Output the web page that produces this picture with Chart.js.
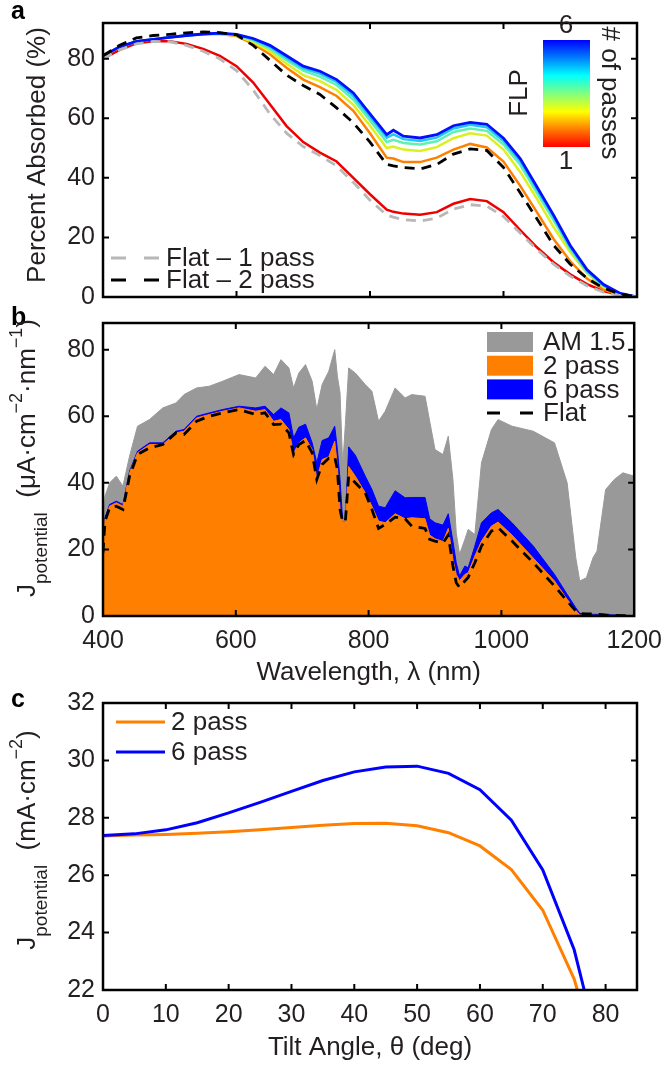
<!DOCTYPE html>
<html>
<head>
<meta charset="utf-8">
<script src="https://cdn.jsdelivr.net/npm/chart.js@4.4.1/dist/chart.umd.min.js"></script>
<style>
  body { margin: 0; background: #fff; }
  .panel { position: absolute; left: 0; }
</style>
</head>
<body>
<canvas id="chartA" class="panel" width="672" height="320" style="top:0px"></canvas>
<canvas id="chartB" class="panel" width="672" height="400" style="top:300px"></canvas>
<canvas id="chartC" class="panel" width="672" height="388" style="top:680px"></canvas>
<script>
// ---- Panel a: percent absorbed vs wavelength ----
const waveA = [400, 425, 450, 475, 500, 525, 550, 575, 600, 625, 650, 675, 700, 725, 750, 775, 800, 825, 835, 850, 875, 900, 925, 950, 975, 1000, 1025, 1050, 1075, 1100, 1125, 1150, 1175, 1200];
const flp1 = [80, 83, 85.2, 85.9, 85.9, 85, 83.3, 81, 77.5, 72, 64.7, 57.4, 52, 48.5, 45.5, 40, 34.5, 29.3, 28.6, 28, 27.6, 28.5, 31.3, 32.9, 32.2, 28.5, 22.5, 16.7, 11.7, 7.6, 4.3, 2, 0.6, 0];
const flp2 = [80.8, 84, 85.8, 86.5, 87.2, 87.8, 88.3, 88.3, 87.6, 85, 81.5, 77, 73, 70.5, 67.5, 62.5, 55, 46.8, 46.5, 45.3, 45.3, 46.8, 49.5, 51.4, 50.2, 45.5, 37.3, 28.5, 19.5, 12, 6.2, 2.5, 0.6, 0];
const flp3 = [81, 84, 85.8, 86.5, 87.2, 87.8, 88.3, 88.4, 87.8, 85.6, 82.5, 78.3, 74.5, 72.5, 69.5, 64.5, 57.5, 50, 50.5, 49.5, 49, 50.3, 53.3, 55, 54.2, 49.5, 42, 33, 23.5, 15, 8, 3.3, 0.9, 0];
const flp4 = [81, 84, 85.8, 86.5, 87.2, 87.8, 88.3, 88.5, 88, 86.2, 83.4, 79.5, 76, 74, 71.2, 66.3, 59.3, 52, 52.8, 51.7, 51.2, 52.3, 55.4, 56.6, 55.8, 51.2, 44.4, 35, 25.8, 16, 8.4, 3.7, 1, 0];
const flp5 = [81, 84, 85.8, 86.5, 87.2, 87.8, 88.3, 88.5, 88.1, 86.5, 84, 80.3, 76.8, 75, 72.2, 67.5, 60.5, 53.5, 54.6, 53, 52.4, 53.5, 56.6, 57.8, 57, 52.4, 45.6, 36.2, 26.8, 16.7, 8.8, 3.9, 1.1, 0];
const flp6 = [81, 84, 85.8, 86.5, 87.2, 87.8, 88.3, 88.6, 88.2, 86.8, 84.5, 81, 77.5, 75.8, 73, 68.5, 61.5, 54.5, 56, 54, 53.4, 54.5, 57.5, 58.6, 58, 53.3, 46.5, 37, 27.5, 17.3, 9.2, 4.2, 1.2, 0];
const flat1A = [80, 83, 85, 85.8, 85.7, 84.5, 82.5, 80, 76, 69.5, 61.5, 55, 50.5, 47.5, 44, 38.5, 32.5, 27.5, 26.8, 26, 25.5, 26.5, 29.5, 31, 30.5, 27, 21.5, 16, 11, 7, 3.8, 1.6, 0.5, 0];
const flat2A = [81, 84.5, 87, 87.8, 88.2, 88.7, 89, 88.8, 88, 84.5, 79.5, 74.5, 71, 68, 63.5, 58.5, 52, 44.5, 44, 43.5, 43, 44.5, 48, 49.7, 49.2, 43.5, 35, 26.3, 17.4, 11, 6.3, 3, 1, 0];
const ticksAX = [400, 600, 800, 1000, 1200];
const ticksAY = [0, 20, 40, 60, 80];

// ---- Panel b: potential current density spectrum ----
const waveB = [400, 403, 410, 420, 430, 440, 452, 470, 490, 510, 522, 541, 560, 580, 605, 630, 644, 657, 668, 680, 687, 695, 705, 715, 722, 730, 740, 749, 753, 757, 761, 765, 770, 780, 795, 805, 815, 825, 840, 855, 865, 885, 892, 900, 912, 920, 927, 932, 937, 945, 950, 960, 970, 985, 995, 1016, 1048, 1080, 1099, 1112, 1118, 1128, 1138, 1144, 1157, 1170, 1183, 1200];
const am15 = [25, 36, 40, 42, 39, 48, 57, 59, 62.5, 64, 66.5, 68.5, 69, 70.5, 72.5, 71.5, 75, 72.5, 77, 74.5, 68.5, 73, 75.5, 70.5, 62, 69.5, 73.5, 80, 72, 67, 45, 57.5, 74.5, 73, 69.5, 67.5, 58.5, 61.5, 68.5, 65.5, 66.5, 66, 58.5, 50, 48.5, 54, 41, 25, 18.5, 23, 26, 24.5, 46, 56, 59, 57, 55.5, 52, 40, 17.5, 10.5, 11.5, 17.5, 19.5, 38, 41, 43, 42];
const pass2B = [20, 29, 33, 34, 33, 43, 49, 51.5, 51.5, 55, 55.5, 59.5, 60.5, 61.5, 62.5, 61.5, 62, 58.5, 59, 56, 48.8, 52, 53.5, 50, 41, 47, 47.8, 52.5, 45, 32, 28.2, 28.2, 44.9, 42, 37, 33, 28.5, 28, 30.7, 29.2, 29.5, 29.2, 24.3, 23.2, 22.4, 26.3, 17, 12.5, 10.6, 12.5, 13, 18, 22.5, 27, 28.2, 24.3, 17.4, 10.5, 5, 1.7, 0.3, 0.2, 0.2, 0.2, 0.1, 0.1, 0.1, 0];
const pass6B = [20.5, 29.5, 33.5, 34.5, 33.5, 43.5, 49.5, 52, 52, 55.5, 56, 60, 61, 62, 63, 62.5, 63, 60.5, 62.5, 61, 53.5, 56.7, 57.6, 52, 46, 52.7, 53.5, 57, 50, 41, 28.2, 28.2, 50.8, 48.3, 42, 38, 33, 32.5, 37.6, 35.5, 35.6, 35.6, 29.2, 28, 27.3, 30.7, 22.4, 16, 12, 15, 14.5, 21, 28, 31, 32, 28, 21, 12.5, 6.5, 2.5, 0.8, 0.6, 0.5, 0.5, 0.4, 0.3, 0.2, 0.1];
const flatB = [19, 28.5, 32.5, 33, 32, 42, 48.5, 50.5, 51.5, 55, 54.5, 58.5, 60, 61, 62, 60.5, 61, 57.5, 57.6, 55, 48.5, 51.5, 52.7, 49, 41, 45.5, 47.4, 47.8, 44, 32, 28.2, 28.5, 42, 40, 37, 32, 26.3, 27.5, 29.7, 29.2, 27, 26.3, 23, 22.5, 21.9, 24.3, 15, 10, 8.6, 10.5, 11.6, 16, 21, 25.5, 26.5, 22.5, 16, 9, 4.5, 1.5, 0.8, 0.6, 0.6, 0.5, 0.3, 0.2, 0.1, 0];
const ticksBX = [400, 600, 800, 1000, 1200];
const ticksBY = [0, 20, 40, 60, 80];

// ---- Panel c: J vs tilt angle ----
const tilt2 = [0, 5, 10, 15, 20, 25, 30, 35, 40, 45, 50, 55, 60, 65, 70, 75, 75.5];
const pass2C = [27.37, 27.4, 27.42, 27.46, 27.51, 27.58, 27.66, 27.74, 27.8, 27.81, 27.72, 27.48, 27.02, 26.2, 24.78, 22.38, 22];
const tilt6 = [0, 5, 10, 15, 20, 25, 30, 35, 40, 45, 50, 55, 60, 65, 70, 75, 76.6];
const pass6C = [27.38, 27.44, 27.58, 27.83, 28.17, 28.54, 28.92, 29.3, 29.6, 29.77, 29.8, 29.55, 28.98, 27.92, 26.18, 23.4, 22];
const ticksCX = [0, 10, 20, 30, 40, 50, 60, 70, 80];
const ticksCY = [22, 24, 26, 28, 30, 32];

const FONT = '"Liberation Sans", Arial, Helvetica, sans-serif';
const TEXT = '#231f20';

Chart.defaults.font.family = FONT;
Chart.defaults.font.size = 25;
Chart.defaults.color = TEXT;
Chart.defaults.animation = false;
Chart.defaults.events = [];
Chart.defaults.plugins.legend.display = false;
Chart.defaults.plugins.tooltip.enabled = false;
Chart.defaults.elements.point.radius = 0;
Chart.defaults.elements.line.tension = 0;

function pts(xs, ys) {
    return xs.map((x, i) => ({ x: x, y: ys[i] }));
}

// linear axis with fixed tick list and fixed box size
function axis(min, max, tickValues, size, extra) {
    return Object.assign({
        type: 'linear',
        min: min,
        max: max,
        grid: { display: false, drawTicks: false },
        border: { display: false },
        afterBuildTicks: s => { s.ticks = tickValues.map(v => ({ value: v })); },
        afterFit: s => { if (s.isHorizontal()) s.height = size; else s.width = size; }
    }, extra);
}

// box round the plot with inward ticks on all four sides
const boxTicks = {
    id: 'boxTicks',
    afterDatasetsDraw(chart) {
        const { ctx, chartArea: a, scales } = chart;
        ctx.save();
        ctx.strokeStyle = '#000';
        ctx.lineWidth = 2;
        ctx.beginPath();
        scales.x.ticks.forEach(t => {
            const px = scales.x.getPixelForValue(t.value);
            if (px < a.left + 2 || px > a.right - 2) return;
            ctx.moveTo(px, a.bottom); ctx.lineTo(px, a.bottom - 6);
            ctx.moveTo(px, a.top); ctx.lineTo(px, a.top + 6);
        });
        scales.y.ticks.forEach(t => {
            const py = scales.y.getPixelForValue(t.value);
            if (py < a.top + 2 || py > a.bottom - 2) return;
            ctx.moveTo(a.left, py); ctx.lineTo(a.left + 6, py);
            ctx.moveTo(a.right, py); ctx.lineTo(a.right - 6, py);
        });
        ctx.stroke();
        ctx.lineWidth = 2.5;
        ctx.strokeRect(a.left, a.top, a.right - a.left, a.bottom - a.top);
        ctx.restore();
    }
};

// rotated text made of pieces: [text, size, baseline shift]
function vertRich(ctx, parts, bx, cy) {
    ctx.save();
    ctx.translate(bx, cy);
    ctx.rotate(-Math.PI / 2);
    ctx.fillStyle = TEXT;
    ctx.textAlign = 'left';
    ctx.textBaseline = 'alphabetic';
    let total = 0;
    parts.forEach(p => { ctx.font = p[1] + 'px ' + FONT; total += ctx.measureText(p[0]).width; });
    let x = -total / 2;
    parts.forEach(p => {
        ctx.font = p[1] + 'px ' + FONT;
        ctx.fillText(p[0], x, p[2]);
        x += ctx.measureText(p[0]).width;
    });
    ctx.restore();
}

function panelLetter(ctx, letter, y) {
    ctx.save();
    ctx.fillStyle = '#000';
    ctx.font = 'bold 25px ' + FONT;
    ctx.textAlign = 'left';
    ctx.textBaseline = 'middle';
    ctx.fillText(letter, 11, y);
    ctx.restore();
}

// ---- chart a ----
const legendA = [
    { label: 'Flat \u2013 1 pass', color: '#b8b8b8' },
    { label: 'Flat \u2013 2 pass', color: '#000000' }
];
const decoA = {
    id: 'decoA',
    afterDraw(chart) {
        const ctx = chart.ctx;
        panelLetter(ctx, 'a', 12);
        vertRich(ctx, [['Percent Absorbed (%)', 26, 0]], 45, 155);

        ctx.save();
        ctx.font = '26px ' + FONT;
        ctx.textAlign = 'left';
        ctx.textBaseline = 'middle';
        legendA.forEach((item, i) => {
            const y = 258 + i * 22;
            ctx.strokeStyle = item.color;
            ctx.lineWidth = 3;
            ctx.setLineDash([15, 18]);
            ctx.beginPath(); ctx.moveTo(111, y); ctx.lineTo(161, y); ctx.stroke();
            ctx.setLineDash([]);
            ctx.fillStyle = TEXT;
            ctx.fillText(item.label, 166, y + 1);
        });

        // colour bar for number of passes
        const g = ctx.createLinearGradient(0, 147, 0, 40);
        g.addColorStop(0, '#ff0000');
        g.addColorStop(0.17, '#ff8000');
        g.addColorStop(0.33, '#ffff00');
        g.addColorStop(0.5, '#80ff80');
        g.addColorStop(0.67, '#00ffff');
        g.addColorStop(0.83, '#0080ff');
        g.addColorStop(1, '#0000ff');
        ctx.fillStyle = g;
        ctx.fillRect(543, 40, 47, 107);
        ctx.fillStyle = TEXT;
        ctx.textAlign = 'center';
        ctx.fillText('6', 566, 26);
        ctx.fillText('1', 566, 162);
        ctx.translate(520, 93);
        ctx.rotate(-Math.PI / 2);
        ctx.fillText('FLP', 0, 0);
        ctx.rotate(Math.PI);
        ctx.translate(0, -89);
        ctx.fillText('# of passes', 0, 0);
        ctx.restore();
    }
};

new Chart(document.getElementById('chartA'), {
    type: 'line',
    data: {
        datasets: [
            { label: 'Flat - 2 pass', data: pts(waveA, flat2A), borderColor: '#000', borderWidth: 2.8, borderDash: [10, 7] },
            { label: 'Flat - 1 pass', data: pts(waveA, flat1A), borderColor: '#b8b8b8', borderWidth: 2.8, borderDash: [10, 7] },
            { label: '6', data: pts(waveA, flp6), borderColor: '#0010ff', borderWidth: 2.8 },
            { label: '5', data: pts(waveA, flp5), borderColor: '#20c8f8', borderWidth: 2.5 },
            { label: '4', data: pts(waveA, flp4), borderColor: '#60f0b0', borderWidth: 2.5 },
            { label: '3', data: pts(waveA, flp3), borderColor: '#dcf020', borderWidth: 2.5 },
            { label: '2', data: pts(waveA, flp2), borderColor: '#ff8000', borderWidth: 2.5 },
            { label: '1', data: pts(waveA, flp1), borderColor: '#ee0000', borderWidth: 2.5 }
        ]
    },
    options: {
        responsive: false,
        layout: { padding: { left: 0, right: 35, top: 8, bottom: 0 } },
        scales: {
            x: axis(400, 1200, ticksAX, 14, { ticks: { display: false } }),
            y: axis(0, 92, ticksAY, 103, { ticks: { padding: 8, callback: v => v } })
        }
    },
    plugins: [boxTicks, decoA]
});

// ---- chart b ----
const legendB = [
    { label: 'AM 1.5', color: '#999999' },
    { label: '2 pass', color: '#ff8000' },
    { label: '6 pass', color: '#0000ff' }
];
const decoB = {
    id: 'decoB',
    afterDraw(chart) {
        const ctx = chart.ctx;
        panelLetter(ctx, 'b', 18);
        vertRich(ctx, [
            ['J', 26, 0], ['potential', 19, 12], ['  (\u03bcA\u00b7cm', 26, 0], ['\u22122', 18, -13],
            ['\u00b7nm', 26, 0], ['\u22121', 18, -13], [')', 26, 0]
        ], 35, 158);

        ctx.save();
        ctx.font = '26px ' + FONT;
        ctx.textAlign = 'left';
        ctx.textBaseline = 'middle';
        legendB.forEach((item, i) => {
            const y = 42 + i * 23.7;
            ctx.fillStyle = item.color;
            ctx.fillRect(487, y - 10, 46, 20);
            ctx.fillStyle = TEXT;
            ctx.fillText(item.label, 543, y + 1);
        });
        const fy = 42 + 3 * 23.7;
        ctx.strokeStyle = '#000';
        ctx.lineWidth = 3;
        ctx.setLineDash([13, 20]);
        ctx.beginPath(); ctx.moveTo(487, fy); ctx.lineTo(533, fy); ctx.stroke();
        ctx.setLineDash([]);
        ctx.fillText('Flat', 543, fy + 1);
        ctx.restore();
    }
};

new Chart(document.getElementById('chartB'), {
    type: 'line',
    data: {
        datasets: [
            { label: 'Flat', data: pts(waveB, flatB), borderColor: '#000', borderWidth: 2.8, borderDash: [10, 7] },
            { label: '2 pass', data: pts(waveB, pass2B), borderColor: '#ff8000', backgroundColor: '#ff8000', borderWidth: 1, fill: 'origin' },
            { label: '6 pass', data: pts(waveB, pass6B), borderColor: '#0000ff', backgroundColor: '#0000ff', borderWidth: 1, fill: 'origin' },
            { label: 'AM 1.5', data: pts(waveB, am15), borderColor: '#999999', backgroundColor: '#999999', borderWidth: 1, fill: 'origin' }
        ]
    },
    options: {
        responsive: false,
        layout: { padding: { left: 0, right: 35, top: 17, bottom: 0 } },
        scales: {
            x: axis(400, 1200, ticksBX, 84, {
                ticks: { padding: 10, callback: v => v },
                title: { display: true, text: 'Wavelength, \u03bb (nm)', font: { size: 26 }, padding: { top: 0, bottom: 12 } }
            }),
            y: axis(0, 88, ticksBY, 103, { ticks: { padding: 8, callback: v => v } })
        }
    },
    plugins: [boxTicks, decoB]
});

// ---- chart c ----
const legendC = [
    { label: '2 pass', color: '#ff8000' },
    { label: '6 pass', color: '#0000ff' }
];
const decoC = {
    id: 'decoC',
    afterDraw(chart) {
        const ctx = chart.ctx;
        panelLetter(ctx, 'c', 20);
        vertRich(ctx, [
            ['J', 26, 0], ['potential', 19, 12], ['  (mA\u00b7cm', 26, 0], ['\u22122', 18, -13], [')', 26, 0]
        ], 35, 160);

        ctx.save();
        ctx.font = '26px ' + FONT;
        ctx.textAlign = 'left';
        ctx.textBaseline = 'middle';
        legendC.forEach((item, i) => {
            const y = 42 + i * 30;
            ctx.strokeStyle = item.color;
            ctx.lineWidth = 3;
            ctx.beginPath(); ctx.moveTo(116, y); ctx.lineTo(165, y); ctx.stroke();
            ctx.fillStyle = TEXT;
            ctx.fillText(item.label, 171, y + 1);
        });
        ctx.restore();
    }
};

new Chart(document.getElementById('chartC'), {
    type: 'line',
    data: {
        datasets: [
            { label: '6 pass', data: pts(tilt6, pass6C), borderColor: '#0000ff', borderWidth: 3 },
            { label: '2 pass', data: pts(tilt2, pass2C), borderColor: '#ff8000', borderWidth: 3 }
        ]
    },
    options: {
        responsive: false,
        layout: { padding: { left: 0, right: 35, top: 12, bottom: 0 } },
        scales: {
            x: axis(0, 85, ticksCX, 78, {
                ticks: { padding: 10, callback: v => v },
                title: { display: true, text: 'Tilt Angle, \u03b8 (deg)', font: { size: 26 }, padding: { top: 0, bottom: 5 } }
            }),
            y: axis(22, 32, ticksCY, 103, { ticks: { padding: 8, callback: v => v } })
        }
    },
    plugins: [boxTicks, decoC]
});
</script>
</body>
</html>
